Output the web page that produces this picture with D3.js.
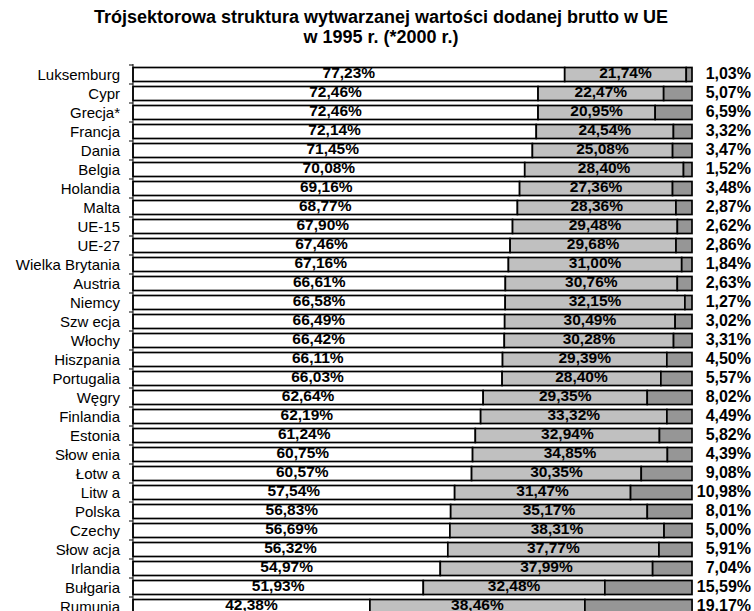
<!DOCTYPE html>
<html>
<head>
<meta charset="utf-8">
<script src="https://cdn.jsdelivr.net/npm/d3@7"></script>
<style>
  html, body { margin: 0; padding: 0; background: #fff; }
  svg { display: block; }
  text { font-family: Arial, "Liberation Sans", sans-serif; fill: #000; }
</style>
</head>
<body>
<svg id="chart" width="754" height="611"></svg>
<script>
const titleLines = ["Trójsektorowa struktura wytwarzanej wartości dodanej brutto w UE", "w 1995 r. (*2000 r.)"];
const categories = ["Luksemburg","Cypr","Grecja*","Francja","Dania","Belgia","Holandia","Malta","UE-15","UE-27","Wielka Brytania","Austria","Niemcy","Szw ecja","Włochy","Hiszpania","Portugalia","Węgry","Finlandia","Estonia","Słow enia","Łotw a","Litw a","Polska","Czechy","Słow acja","Irlandia","Bułgaria","Rumunia"];
const services = [77.23,72.46,72.46,72.14,71.45,70.08,69.16,68.77,67.90,67.46,67.16,66.61,66.58,66.49,66.42,66.11,66.03,62.64,62.19,61.24,60.75,60.57,57.54,56.83,56.69,56.32,54.97,51.93,42.38];
const industry = [21.74,22.47,20.95,24.54,25.08,28.40,27.36,28.36,29.48,29.68,31.00,30.76,32.15,30.49,30.28,29.39,28.40,29.35,33.32,32.94,34.85,30.35,31.47,35.17,38.31,37.77,37.99,32.48,38.46];
const agriculture = [1.03,5.07,6.59,3.32,3.47,1.52,3.48,2.87,2.62,2.86,1.84,2.63,1.27,3.02,3.31,4.50,5.57,8.02,4.49,5.82,4.39,9.08,10.98,8.01,5.00,5.91,7.04,15.59,19.17];
const seriesNames = ["usługi","przemysł","rolnictwo"];
const seriesColors = ["#ffffff","#c0c0c0","#969696"];

const svg = d3.select("#chart");
svg.append("rect").attr("width",754).attr("height",611).attr("fill","#fff");

const fmt = v => d3.format(".2f")(v).replace(".", ",") + "%";

const rows = categories.map((c,i) => ({cat:c, vals:[services[i], industry[i], agriculture[i]]}));

const x = d3.scaleLinear().domain([0,100]).range([133,692]);
const pIn = 5/19;
const y = d3.scaleBand().domain(categories).range([65, 65 + 19*categories.length]).paddingInner(pIn).paddingOuter(pIn/2);

// title
svg.append("g").selectAll("text").data(titleLines).join("text")
  .attr("x", 381).attr("y", (d,i) => 23 + i*20)
  .attr("text-anchor","middle").attr("font-weight","bold").attr("font-size","18px")
  .text(d => d);

// bars
const g = svg.append("g");
rows.forEach(r => {
  let acc = 0;
  r.vals.forEach((v,k) => {
    g.append("rect")
      .attr("x", x(acc)).attr("y", y(r.cat))
      .attr("width", x(acc+v) - x(acc)).attr("height", y.bandwidth())
      .attr("fill", seriesColors[k]).attr("stroke","#000").attr("stroke-width",1.7);
    acc += v;
  });
});

// axis line and ticks at band boundaries
const step = y.step();
svg.append("line").attr("x1",133).attr("x2",133).attr("y1",64).attr("y2",611)
  .attr("stroke","#000").attr("stroke-width",1);
const bounds = categories.map(c => y(c) - step*pIn/2);
svg.append("g").selectAll("line").data(bounds).join("line")
  .attr("x1",129).attr("x2",133).attr("y1",d=>d).attr("y2",d=>d)
  .attr("stroke","#000").attr("stroke-width",1);

// category labels
svg.append("g").selectAll("text").data(rows).join("text")
  .attr("x",120).attr("y", d => y(d.cat) + y.bandwidth()/2 + 5)
  .attr("text-anchor","end").attr("font-size","15px")
  .text(d => d.cat);

// inner labels
rows.forEach(r => {
  const cy = y(r.cat) + y.bandwidth()/2;
  const s = r.vals[0], ind = r.vals[1];
  g.append("text").attr("x", x(s/2)).attr("y", cy + 3)
    .attr("text-anchor","middle").attr("font-weight","bold").attr("font-size","15.5px")
    .text(fmt(s));
  g.append("text").attr("x", x(s + ind/2)).attr("y", cy + 3)
    .attr("text-anchor","middle").attr("font-weight","bold").attr("font-size","15.5px")
    .text(fmt(ind));
  g.append("text").attr("x", 751).attr("y", cy + 4)
    .attr("text-anchor","end").attr("font-weight","bold").attr("font-size","16px")
    .text(fmt(r.vals[2]));
});
</script>
</body>
</html>
